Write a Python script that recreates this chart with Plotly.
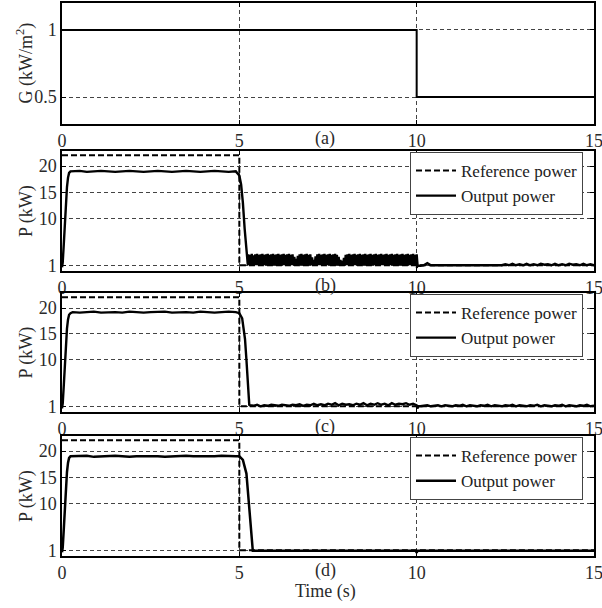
import numpy as np
import plotly.graph_objects as go

FONT = "Liberation Serif"

# ---------------- data ----------------
# (a) irradiance G (kW/m^2)
t_G = [0, 10, 15]
G = [1.0, 0.5, 0.5]

# reference power (kW), same in (b), (c), (d)
t_ref = [0, 5, 15]
P_ref = [22.1, 1.0, 1.0]

# start-up ramp
t_ramp = [0.0, 0.02, 0.05, 0.08, 0.11, 0.14, 0.17, 0.20, 0.24]
P_ramp = [0.6, 1.5, 5.0, 9.5, 13.5, 16.0, 17.8, 18.7, 19.0]

# plateau samples (0.3 .. 4.9 s)
t_plat = [0.3, 0.5, 0.7, 0.9, 1.1, 1.3, 1.5, 1.7, 1.9, 2.1, 2.3, 2.5,
          2.7, 2.9, 3.1, 3.3, 3.5, 3.7, 3.9, 4.1, 4.3, 4.5, 4.7, 4.9]
P_plat_b = [19.0, 19.1, 18.9, 19.0, 19.1, 19.0, 18.9, 19.0, 19.1, 19.0, 18.9, 19.0,
            19.1, 19.0, 18.9, 19.0, 19.1, 19.0, 18.9, 19.0, 19.1, 19.0, 18.9, 19.0]
P_plat_c = [19.2, 19.1, 19.2, 19.3, 19.1, 19.2, 19.2, 19.1, 19.3, 19.2, 19.1, 19.2,
            19.2, 19.3, 19.1, 19.2, 19.2, 19.1, 19.3, 19.2, 19.1, 19.2, 19.3, 19.2]
P_plat_d = [19.0, 19.0, 19.1, 18.9, 19.0, 19.0, 19.1, 19.0, 18.9, 19.0, 19.0, 19.1,
            19.0, 18.9, 19.0, 19.0, 19.1, 19.0, 19.0, 18.9, 19.0, 19.1, 19.0, 19.0]

# power drop after 5 s
t_drop_b = [5.0, 5.05, 5.1, 5.15, 5.2, 5.24]
P_drop_b = [18.2, 16.5, 13.0, 8.0, 3.0, 1.0]
t_drop_c = [5.0, 5.08, 5.16, 5.2, 5.24, 5.28]
P_drop_c = [19.0, 18.0, 14.0, 10.0, 5.0, 1.3]
t_drop_d = [5.0, 5.1, 5.2, 5.25, 5.3, 5.35, 5.38]
P_drop_d = [19.0, 18.3, 15.7, 11.5, 6.0, 2.0, 0.9]

# (b) oscillation 5.25 .. 10.0 s: peaks every 0.05 s, troughs in between
osc_peak_b = [
    3.1, 3.0, 3.2, 2.9, 3.1, 3.2, 3.0, 3.1, 3.2, 3.0,
    3.1, 3.2, 3.0, 3.1, 3.2, 3.0, 3.1, 3.2, 3.0, 3.1,
    3.2, 3.0, 3.1, 3.2, 3.0, 3.1, 2.6, 2.2, 2.8, 3.1,
    3.2, 3.0, 3.1, 3.2, 3.0, 3.1, 2.5, 2.0, 2.7, 3.1,
    3.2, 3.0, 3.1, 3.2, 3.0, 3.1, 3.2, 3.0, 3.1, 3.2,
    3.0, 2.6, 2.0, 1.8, 2.4, 3.0, 3.1, 3.2, 3.0, 3.1,
    3.2, 3.0, 3.1, 3.2, 3.0, 3.1, 3.2, 3.0, 3.1, 3.2,
    3.0, 3.1, 3.2, 3.0, 3.1, 3.2, 3.0, 3.1, 3.2, 3.0,
    3.1, 3.2, 3.0, 3.1, 3.2, 3.0, 3.1, 3.2, 3.0, 3.1,
    3.2, 3.0, 3.1, 3.2, 3.0, 3.1,
]
osc_trough_b = 1.0

# (c) 5.3 .. 10.0 s every 0.1 s
P_mid_c = [1.2, 1.1, 1.3, 1.0, 1.2, 1.1, 1.3, 1.2, 1.1, 1.3,
           1.2, 1.1, 1.3, 1.2, 1.4, 1.1, 1.3, 1.2, 1.5, 1.2,
           1.4, 1.2, 1.5, 1.3, 1.6, 1.2, 1.5, 1.3, 1.4, 1.2,
           1.5, 1.3, 1.6, 1.2, 1.5, 1.3, 1.6, 1.3, 1.5, 1.2,
           1.6, 1.3, 1.5, 1.4, 1.6, 1.3, 1.5, 1.2]

# tails 10.1 .. 15.0 s every 0.1 s
P_tail_b = [0.9, 1.0, 1.4, 1.0, 1.0, 1.0, 1.0, 1.0, 1.0, 1.0,
            1.0, 1.0, 1.0, 1.0, 1.0, 1.0, 1.0, 1.0, 1.0, 1.0,
            1.0, 1.0, 1.0, 1.0, 1.2, 1.0, 1.3, 1.0, 1.2, 1.0,
            1.3, 1.0, 1.2, 1.0, 1.3, 1.1, 1.2, 1.0, 1.3, 1.0,
            1.2, 1.0, 1.3, 1.1, 1.2, 1.0, 1.3, 1.0, 1.2, 1.0]
P_tail_c = [1.0, 1.1, 1.2, 1.0, 1.1, 1.2, 1.0, 1.2, 1.1, 1.0,
            1.2, 1.1, 1.3, 1.0, 1.2, 1.1, 1.0, 1.2, 1.1, 1.3,
            1.0, 1.2, 1.1, 1.0, 1.2, 1.1, 1.3, 1.0, 1.2, 1.1,
            1.0, 1.2, 1.1, 1.3, 1.0, 1.2, 1.1, 1.0, 1.2, 1.1,
            1.3, 1.0, 1.2, 1.1, 1.0, 1.2, 1.1, 1.3, 1.0, 1.1]
t_tail_d = [5.38, 9.98, 10.0, 10.02, 15.0]
P_tail_d = [0.9, 0.9, 0.5, 0.9, 0.9]

x_ticks = [0, 5, 10, 15]
p_ticks = [1, 10, 15, 20]
g_ticks = [0.5, 1]
panel_labels = ["(a)", "(b)", "(c)", "(d)"]
legend_names = ["Reference power", "Output power"]

# ---------------- build series ----------------
t_osc_peak = np.round(np.arange(len(osc_peak_b)) * 0.05 + 5.25, 3)
t_osc = []
P_osc = []
for tp, pk in zip(t_osc_peak, osc_peak_b):
    t_osc += [tp, tp + 0.025]
    P_osc += [pk, osc_trough_b]
t_mid = list(np.round(np.arange(len(P_mid_c)) * 0.1 + 5.3, 3))
t_tail = list(np.round(np.arange(len(P_tail_b)) * 0.1 + 10.1, 3))

t_b = t_ramp + t_plat + t_drop_b + t_osc + [10.0, 10.02] + t_tail
P_b = P_ramp + P_plat_b + P_drop_b + P_osc + [0.5, 0.9] + P_tail_b
t_c = t_ramp + t_plat + t_drop_c + t_mid + [10.02, 10.05] + t_tail
P_c = P_ramp + P_plat_c + P_drop_c + P_mid_c + [0.6, 1.0] + P_tail_c
t_d = t_ramp + t_plat + t_drop_d + t_tail_d
P_d = P_ramp + P_plat_d + P_drop_d + P_tail_d

# ---------------- figure ----------------
H = 608.0
W = 602.0
panels_px = [(3, 124), (151, 271), (293, 412), (436, 556)]
xdom = [62 / W, 594 / W]

fig = go.Figure()

fig.add_trace(go.Scatter(x=t_G, y=G, mode="lines", line=dict(color="black", width=2, shape="hv"),
                         showlegend=False, xaxis="x", yaxis="y"))

outputs = [(t_b, P_b), (t_c, P_c), (t_d, P_d)]
for i, (tt, pp) in enumerate(outputs):
    k = i + 2
    lg = "legend" if i == 0 else f"legend{i + 1}"
    fig.add_trace(go.Scatter(x=t_ref, y=P_ref, mode="lines", name=legend_names[0],
                             line=dict(color="black", width=2, shape="hv", dash="6px,3px"),
                             legend=lg, xaxis=f"x{k}", yaxis=f"y{k}"))
    fig.add_trace(go.Scatter(x=tt, y=pp, mode="lines", name=legend_names[1],
                             line=dict(color="black", width=2.4 if i < 2 else 2.5),
                             legend=lg, xaxis=f"x{k}", yaxis=f"y{k}"))

tickfont = dict(family=FONT, size=18, color="#2a2a2a")
axis_common = dict(showline=True, linecolor="black", linewidth=1.5, mirror="ticks",
                   ticks="inside", ticklen=4, tickcolor="black",
                   showgrid=True, gridcolor="#444", gridwidth=1, griddash="4px,3px",
                   zeroline=False, tickfont=tickfont, ticklabeloverflow="allow",
                   automargin=False)

layout = dict(width=602, height=608, margin=dict(l=0, r=0, t=0, b=0, autoexpand=False),
              paper_bgcolor="white", plot_bgcolor="white", showlegend=True)

annotations = []
for i, (top, bot) in enumerate(panels_px):
    k = "" if i == 0 else str(i + 1)
    dom = [1 - bot / H, 1 - top / H]
    layout[f"xaxis{k}"] = dict(domain=xdom, range=[0, 15], tickvals=x_ticks,
                               anchor=f"y{k}", **axis_common)
    if i == 0:
        layout[f"yaxis{k}"] = dict(domain=dom, range=[0.3, 1.2], tickvals=g_ticks,
                                   ticktext=["0.5", "1"], anchor=f"x{k}", **axis_common)
    else:
        layout[f"yaxis{k}"] = dict(domain=dom, range=[-0.1, 22.9], tickvals=p_ticks,
                                   anchor=f"x{k}", **axis_common)
    annotations.append(dict(text=panel_labels[i], x=325 / W, y=1 - (bot + 14) / H,
                            xref="paper", yref="paper", showarrow=False,
                            xanchor="center", yanchor="middle",
                            font=dict(family=FONT, size=18, color="#2a2a2a")))
    ytitle = "G (kW/m<sup>2</sup>)" if i == 0 else "P (kW)"
    annotations.append(dict(text=ytitle, x=26 / W, y=1 - (top + bot) / 2 / H,
                            xref="paper", yref="paper", showarrow=False, textangle=-90,
                            xanchor="center", yanchor="middle",
                            font=dict(family=FONT, size=18, color="#2a2a2a")))

annotations.append(dict(text="Time (s)", x=325 / W, y=1 - 591 / H, xref="paper", yref="paper",
                        showarrow=False, xanchor="center", yanchor="middle",
                        font=dict(family=FONT, size=18, color="#2a2a2a")))
layout["annotations"] = annotations

for i, (top, bot) in enumerate(panels_px[1:]):
    key = "legend" if i == 0 else f"legend{i + 1}"
    layout[key] = dict(x=410 / W, y=1 - (top + 1) / H, xanchor="left", yanchor="top",
                       bgcolor="white", bordercolor="#444", borderwidth=1,
                       font=dict(family=FONT, size=17, color="#222"),
                       tracegroupgap=0, itemwidth=40)

fig.update_layout(**layout)
fig.write_html("out.html")
